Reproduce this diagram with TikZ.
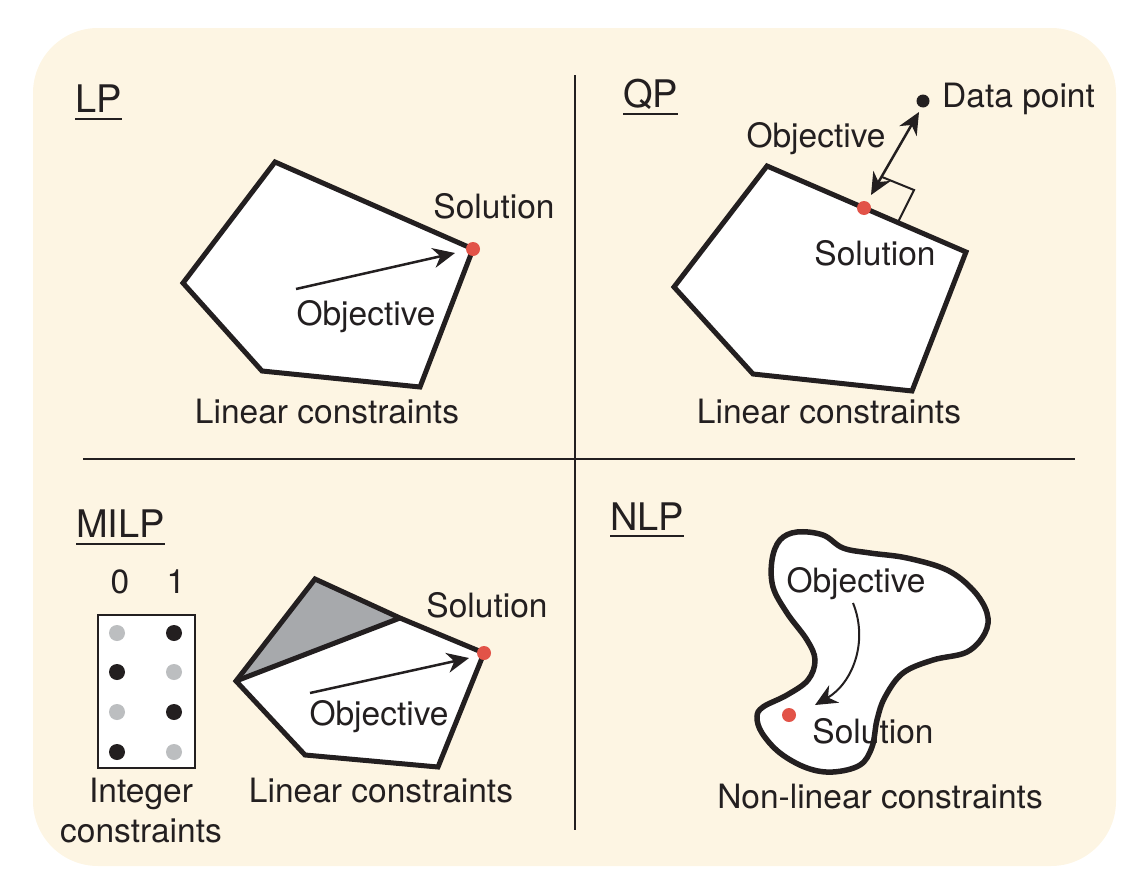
\documentclass[tikz,border=0pt]{standalone}
\usepackage{fontspec}
\setmainfont{TeX Gyre Heros}
\usetikzlibrary{arrows.meta}
\definecolor{bgcream}{RGB}{253,245,227}
\definecolor{ink}{RGB}{35,31,32}
\definecolor{soldot}{RGB}{226,83,72}
\definecolor{grayfill}{RGB}{167,169,172}
\definecolor{lightdot}{RGB}{188,190,192}
\begin{document}
\begin{tikzpicture}[x=1pt,y=-1pt,
  lbl/.style={font=\fontsize{33.5}{38}\selectfont, text=ink, inner sep=0pt, anchor=base},
  ttl/.style={font=\fontsize{38}{44}\selectfont, text=ink, inner sep=0pt, anchor=base west},
  uline/.style={draw=ink, line width=2pt},
  poly/.style={draw=ink, line width=5pt, line join=miter},
  divider/.style={draw=ink, line width=2pt},
  tip/.style={},
  arr/.style={draw=ink, line width=2.5pt, -{Stealth[length=22pt,width=20pt,inset=7pt]}},
  darr/.style={draw=ink, line width=2.5pt, {Stealth[length=22pt,width=20pt,inset=7pt]}-{Stealth[length=22pt,width=20pt,inset=7pt]}},
  thinline/.style={draw=ink, line width=2pt},
  sol/.style={circle, fill=soldot, inner sep=0pt, minimum size=14pt},
  bdot/.style={circle, fill=ink, inner sep=0pt, minimum size=16pt},
  gdot/.style={circle, fill=lightdot, inner sep=0pt, minimum size=16pt},
  datadot/.style={circle, fill=ink, inner sep=0pt, minimum size=13pt}
]
\useasboundingbox (0,0) rectangle (1144,894);
\fill[bgcream, rounded corners=65pt] (33,28) rectangle (1116,866);

% dividers
\coordinate (vtop) at (575,75);
\coordinate (vbot) at (575,830);
\coordinate (hleft) at (83,459);
\coordinate (hright) at (1075,459);
\draw[divider] (vtop) -- (vbot);
\draw[divider] (hleft) -- (hright);

% ---------- LP ----------
\node[ttl] (lp) at (75,112) {LP};
\draw[uline] ([yshift=-7pt]lp.base west) -- ([yshift=-7pt]lp.base east);
\fill[white] (275,162) -- (473,249) -- (420,387) -- (262,371) -- (183,283) -- cycle;
\draw[poly] (275,162) -- (473,249) -- (420,387) -- (262,371) -- (183,283) -- cycle;
\node[sol] (lpsol) at (473,249) {};
\coordinate (lpstart) at (296,289);
\coordinate (lpend) at (455,253);
\draw[arr] (lpstart) -- (lpend);
\node[lbl] (lpsoltxt) at (494,218) {Solution};
\node[lbl] (lpobj) at (366,325) {Objective};
\node[lbl] (lplin) at (327,423) {Linear constraints};

% ---------- QP ----------
\node[ttl] (qp) at (623,107) {QP};
\draw[uline] ([yshift=-7pt]qp.base west) -- ([yshift=-7pt]qp.base east);
\fill[white] (767,166) -- (966,252) -- (912,391) -- (753,374) -- (674,287) -- cycle;
\draw[poly] (767,166) -- (966,252) -- (912,391) -- (753,374) -- (674,287) -- cycle;
\coordinate (ra1) at (882,177);
\coordinate (ra2) at (914,190);
\coordinate (ra3) at (898,222);
\draw[thinline] (ra1) -- (ra2) -- (ra3);
\node[sol] (qpsol) at (864,208) {};
\node[datadot] (data) at (923,101) {};
\coordinate (qplow) at (871,195);
\coordinate (qphigh) at (919,112);
\draw[darr] (qplow) -- (qphigh);
\node[lbl, anchor=base west] (datatxt) at (942,107) {Data point};
\node[lbl] (qpobj) at (816,147) {Objective};
\node[lbl] (qpsoltxt) at (875,265) {Solution};
\node[lbl] (qplin) at (829,423) {Linear constraints};

% ---------- MILP ----------
\node[ttl] (milp) at (76,537) {MILP};
\draw[uline] ([yshift=-7pt]milp.base west) -- ([yshift=-7pt]milp.base east);
\node[lbl] (zero) at (120,593) {0};
\node[lbl] (one) at (176,593) {1};
\draw[draw=ink, line width=2.5pt, fill=white] (98,615) rectangle (195,768);
\node[gdot] (d11) at (117,633) {};
\node[bdot] (d12) at (174,633) {};
\node[bdot] (d21) at (117,672) {};
\node[gdot] (d22) at (174,672) {};
\node[gdot] (d31) at (117,712) {};
\node[bdot] (d32) at (174,712) {};
\node[bdot] (d41) at (117,752) {};
\node[gdot] (d42) at (174,752) {};
\node[lbl] (intg) at (141,802) {Integer};
\node[lbl] (intc) at (141,842) {constraints};
\fill[white] (315,579) -- (400,618) -- (484,653) -- (438,767) -- (305,755) -- (236,681) -- cycle;
\fill[grayfill] (315,579) -- (400,618) -- (236,681) -- cycle;
\draw[poly] (315,579) -- (400,618) -- (484,653) -- (438,767) -- (305,755) -- (236,681) -- cycle;
\draw[poly] (236,681) -- (400,618);
\node[sol] (milpsol) at (484,653) {};
\coordinate (mstart) at (310,693);
\coordinate (mend) at (469,658);
\draw[arr] (mstart) -- (mend);
\node[lbl] (msoltxt) at (487,617) {Solution};
\node[lbl] (mobj) at (379,725) {Objective};
\node[lbl] (mlin) at (381,802) {Linear constraints};

% ---------- NLP ----------
\node[ttl] (nlp) at (610,530) {NLP};
\draw[uline] ([yshift=-6pt]nlp.base west) -- ([yshift=-6pt]nlp.base east);
\draw[draw=ink, line width=5.5pt, fill=white] plot[smooth cycle, tension=0.6] coordinates {
  (797,532) (780,540) (772,560) (773,587) (787,613) (807,640) (815,660) (808,680)
  (787,695) (763,707) (757,717) (762,733) (780,753) (807,768) (833,772) (860,765)
  (872,747) (877,720) (885,697) (903,673) (933,660) (967,652) (985,633) (987,613)
  (973,590) (947,570) (907,558) (870,553) (843,548) (823,535)};
\node[sol] (nlpsol) at (789,715) {};
\coordinate (nstart) at (853,603);
\coordinate (nend) at (815,705);
\draw[arr, line width=2pt] (nstart) to[out=-68,in=30] (nend);
\node[lbl] (nobj) at (856,592) {Objective};
\node[lbl] (nsoltxt) at (873,743) {Solution};
\node[lbl] (nlin) at (880,808) {Non-linear constraints};
\end{tikzpicture}
\end{document}
